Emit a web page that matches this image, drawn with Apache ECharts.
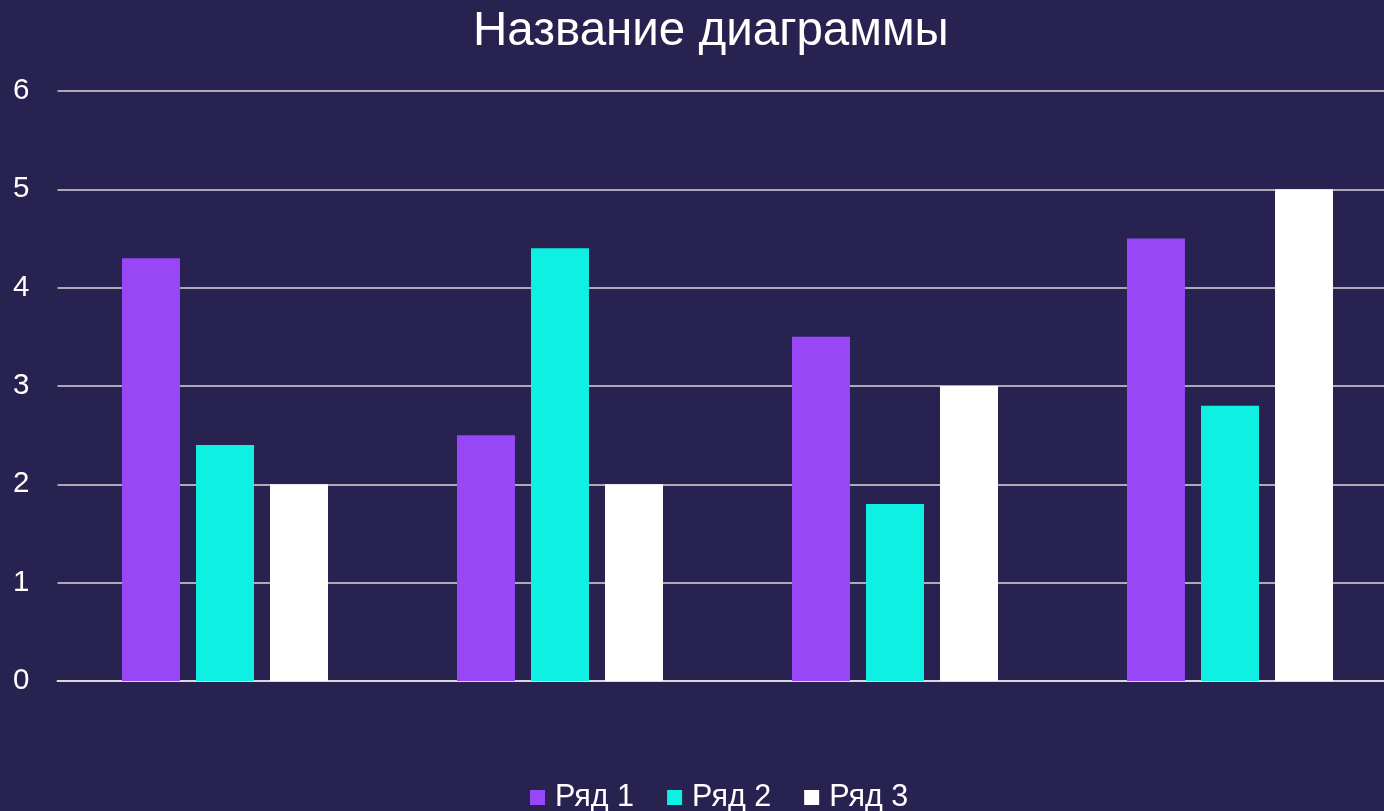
<!DOCTYPE html>
<html><head><meta charset="utf-8">
<script src="https://cdn.jsdelivr.net/npm/echarts@6/dist/echarts.min.js"></script>
<style>html,body{margin:0;padding:0;background:#27224F;}#c{width:1384px;height:811px;}</style>
</head><body><div id="c"></div>
<script>
const categories = ['Категория 1', 'Категория 2', 'Категория 3', 'Категория 4'];
const seriesNames = ['Ряд 1', 'Ряд 2', 'Ряд 3'];
const row1 = [4.3, 2.5, 3.5, 4.5];
const row2 = [2.4, 4.4, 1.8, 2.8];
const row3 = [2, 2, 3, 5];
const yTicks = [0, 1, 2, 3, 4, 5, 6];
const colors = ['#9747F5', '#0DF0E2', '#FFFFFF'];

const chart = echarts.init(document.getElementById('c'));
const font = 'Liberation Sans, Arial, sans-serif';
chart.setOption({
  backgroundColor: '#27224F',
  animation: false,
  title: {
    text: 'Название диаграммы', left: 468, top: 3,
    textStyle: { color: '#FFFFFF', fontSize: 47.5, fontWeight: 'normal', fontFamily: font }
  },
  legend: {
    data: seriesNames, left: 525, top: 777, itemWidth: 15, itemHeight: 15, itemGap: 33,
    icon: 'rect',
    textStyle: { color: '#FFFFFF', fontSize: 30.5, fontFamily: font, padding: [0, 0, 0, 5] }
  },
  grid: { left: 57.5, width: 1340, top: 91, bottom: 130, containLabel: false, outerBoundsMode: 'none' },
  xAxis: {
    type: 'category', data: categories,
    axisLine: { lineStyle: { color: '#D9D9D9', width: 2 } },
    axisTick: { show: false }, axisLabel: { show: false }
  },
  yAxis: {
    type: 'value', min: yTicks[0], max: yTicks[yTicks.length - 1], interval: 1,
    axisLine: { show: false }, axisTick: { show: false },
    axisLabel: { color: '#FFFFFF', fontSize: 29.5, fontFamily: font, margin: 28 },
    splitLine: { lineStyle: { color: '#D9D9D9', width: 1.5 } }
  },
  series: [row1, row2, row3].map((d, i) => ({
    name: seriesNames[i], type: 'bar', data: d, barWidth: 58, barGap: '27.6%',
    itemStyle: { color: colors[i] }
  }))
});
</script></body></html>
